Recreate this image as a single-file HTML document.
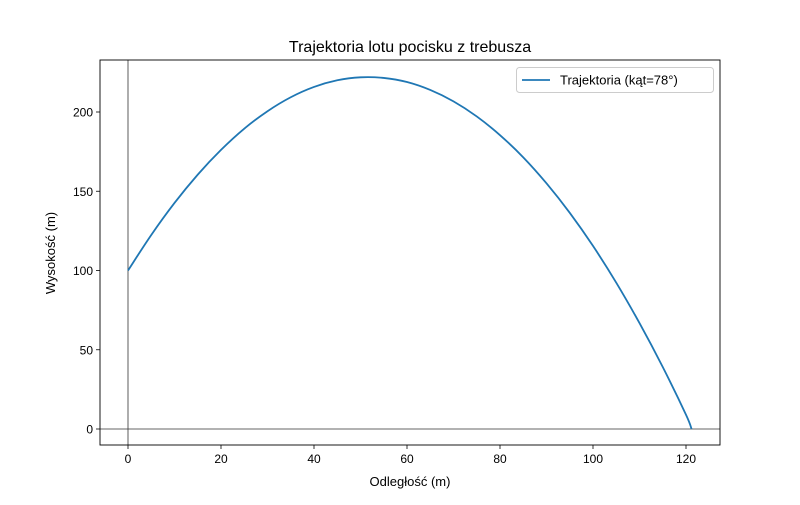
<!DOCTYPE html>
<html><head><meta charset="utf-8"><style>
body{margin:0;background:#fff;}
svg text{font-family:"Liberation Sans","DejaVu Sans",sans-serif;}
</style></head><body>
<svg id="chart" width="800" height="500" xmlns="http://www.w3.org/2000/svg">
<rect width="800" height="500" fill="#fff"/>
<text x="410" y="52" font-size="16" text-anchor="middle">Trajektoria lotu pocisku z trebusza</text>
<g id="plot"></g>
<text x="410" y="486" font-size="13" text-anchor="middle">Odległość (m)</text>
<text x="55" y="253" font-size="13" text-anchor="middle" transform="rotate(-90 55 253)">Wysokość (m)</text>
</svg>
<script>
const xs=[0,5,10,15,20,25,30,35,40,45,50,55,60,65,70,75,80,85,90,95,100,105,110,115,120,121.2];
const ys=[100,122.4,142.6,160.5,176.1,189.5,200.5,209.3,215.8,220,221.9,221.5,218.9,213.9,206.7,197.2,185.4,171.4,155,136.4,115.5,92.3,66.8,39.1,9,0];
const xTicks=[0,20,40,60,80,100,120];
const yTicks=[0,50,100,150,200];
const seriesLabel="Trajektoria (kąt=78°)";
const L=100,R=720,T=60,B=445;
const X=v=>128+v*4.65;
const Y=v=>429-v*1.585;
const ns="http://www.w3.org/2000/svg";
const g=document.getElementById('plot');
function mk(t,a){const e=document.createElementNS(ns,t);for(const k in a)e.setAttribute(k,a[k]);g.appendChild(e);return e;}
function smooth(pts){
 let d='M'+pts[0][0].toFixed(2)+','+pts[0][1].toFixed(2);
 for(let i=0;i<pts.length-1;i++){
  const p0=pts[Math.max(0,i-1)],p1=pts[i],p2=pts[i+1],p3=pts[Math.min(pts.length-1,i+2)];
  const c1=[p1[0]+(p2[0]-p0[0])/6,p1[1]+(p2[1]-p0[1])/6];
  const c2=[p2[0]-(p3[0]-p1[0])/6,p2[1]-(p3[1]-p1[1])/6];
  d+='C'+c1.map(v=>v.toFixed(2)).join(',')+' '+c2.map(v=>v.toFixed(2)).join(',')+' '+p2.map(v=>v.toFixed(2)).join(',');
 }
 return d;
}
let e;
e=mk('line',{x1:L,x2:R,y1:Y(0),y2:Y(0),stroke:'#333','stroke-width':0.8});


e=mk('line',{x1:X(0),x2:X(0),y1:T,y2:B,stroke:'#333','stroke-width':0.8});


e=mk('path',{d:smooth(xs.map((x,i)=>[X(x),Y(ys[i])])),fill:'none',stroke:'#1f77b4','stroke-width':1.8});


e=mk('rect',{x:L,y:T,width:R-L,height:B-T,fill:'none',stroke:'#000','stroke-width':0.9});


xTicks.forEach(t=>{
 e=mk('line',{x1:X(t),x2:X(t),y1:B,y2:B+4,stroke:'#000','stroke-width':0.8});
 
 
 e=mk('text',{x:X(t),y:B+18,'font-size':12,'text-anchor':'middle'});e.textContent=t;
 
 
});
yTicks.forEach(t=>{
 e=mk('line',{x1:L-4,x2:L,y1:Y(t),y2:Y(t),stroke:'#000','stroke-width':0.8});
 
 
 e=mk('text',{x:L-7,y:Y(t)+4.5,'font-size':12,'text-anchor':'end'});e.textContent=t;
 
 
});
e=mk('rect',{x:516.5,y:67.5,width:197,height:25,rx:3,fill:'#fff',stroke:'#ccc','stroke-width':1});


e=mk('line',{x1:522,x2:550,y1:80,y2:80,stroke:'#1f77b4','stroke-width':1.8});


e=mk('text',{x:560,y:84.5,'font-size':13});e.textContent=seriesLabel;


</script>
</body></html>
